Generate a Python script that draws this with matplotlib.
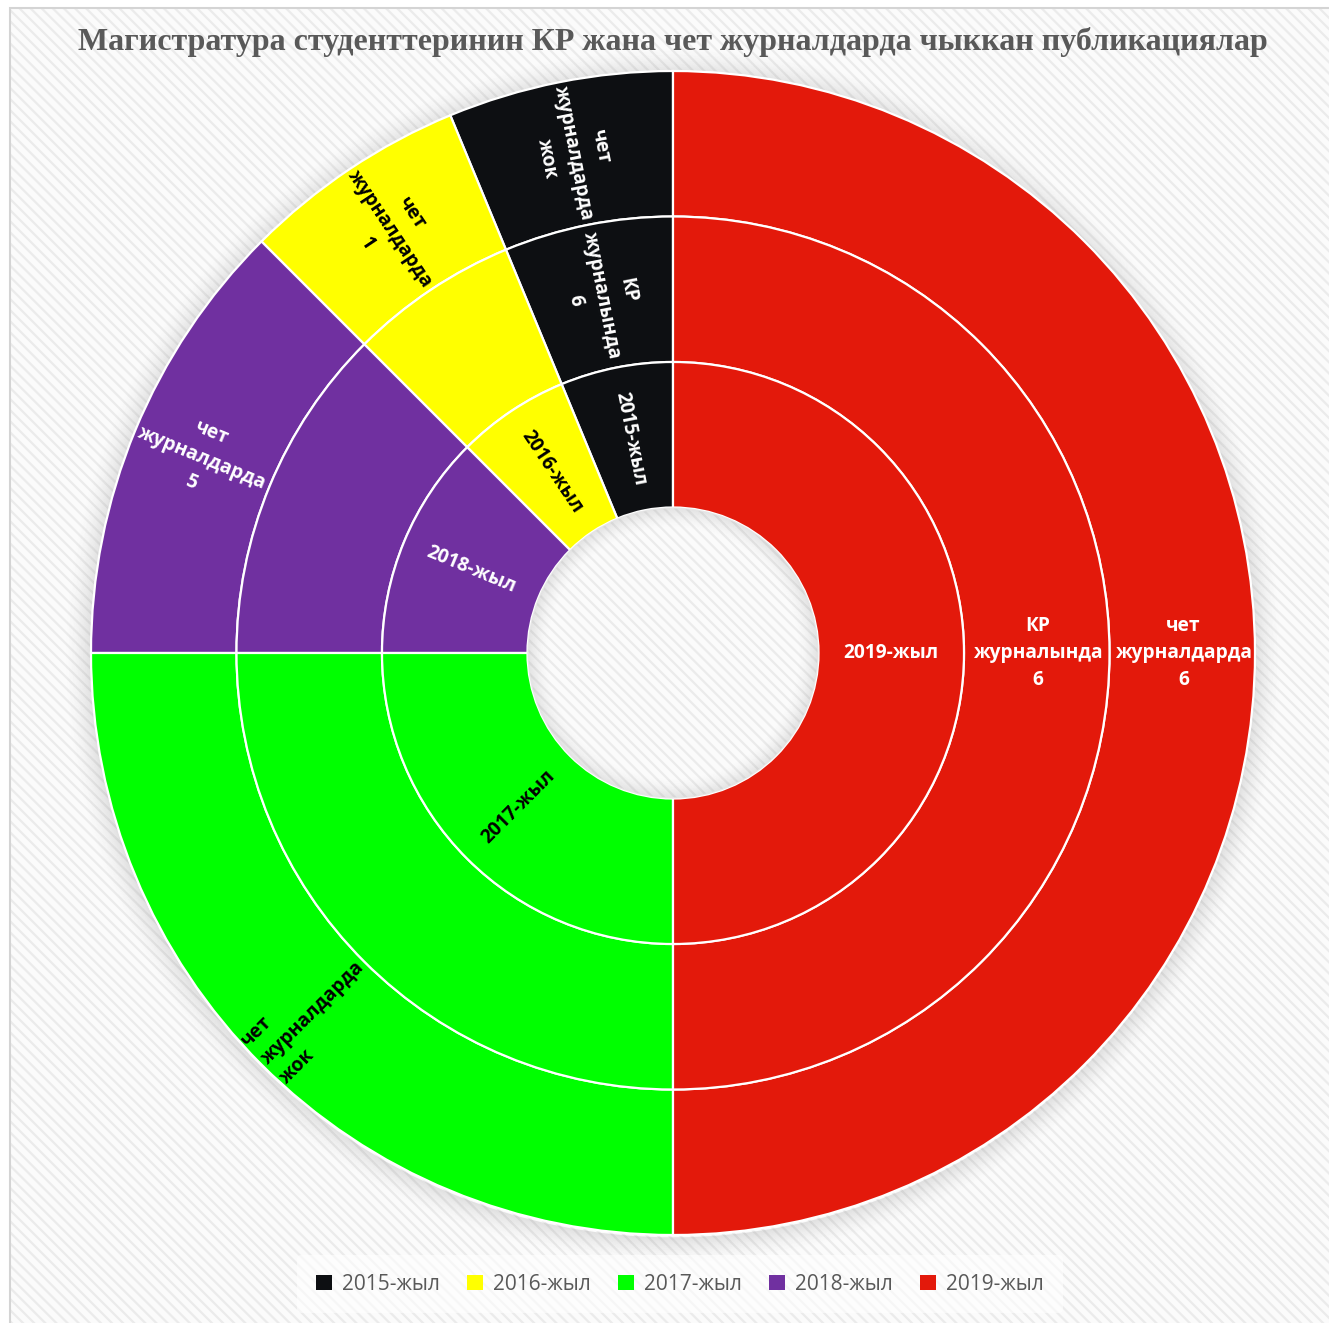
import matplotlib
matplotlib.use('Agg')
import matplotlib.pyplot as plt
from matplotlib.patches import Rectangle, Wedge, Patch
import numpy as np

# ---------------- data ----------------
years = ['2015-жыл', '2016-жыл', '2017-жыл', '2018-жыл', '2019-жыл']
colors = ['#0D0F12', '#FFFF00', '#00FF00', '#7030A0', '#E3190B']
shares = [1, 1, 4, 2, 8]                 # same share in every ring
ring_order = [0, 1, 3, 2, 4]             # counter-clockwise from 12 o'clock

inner_labels = ['2015-жыл', '2016-жыл', '2017-жыл', '2018-жыл', '2019-жыл']
middle_labels = ['КР\nжурналында\n6', '', '', '', 'КР\nжурналында\n6']
outer_labels = ['чет\nжурналдарда\nжок', 'чет\nжурналдарда\n1',
                'чет\nжурналдарда\nжок', 'чет\nжурналдарда\n5',
                'чет\nжурналдарда\n6']
label_colors = ['white', 'black', 'black', 'white', 'white']

title = 'Магистратура студенттеринин КР жана чет журналдарда чыккан публикациялар'

# ---------------- figure ----------------
W, H = 1329, 1323
fig = plt.figure(figsize=(W / 100, H / 100), dpi=100)
fig.patch.set_facecolor('white')

# striped background with light frame
plt.rcParams['hatch.linewidth'] = 1.6
bg = Rectangle((10 / W, -0.01), 1.0, (H - 8) / H + 0.01, transform=fig.transFigure,
               facecolor='#fbfbfb', edgecolor='#ebebeb', lw=0, hatch='\\\\\\',
               zorder=-10)
fig.patches.append(bg)
frame = Rectangle((10 / W, -0.01), 1.0, (H - 8) / H + 0.01, transform=fig.transFigure,
                  facecolor='none', edgecolor='#d4d4d4', lw=1.5, zorder=-9)
fig.patches.append(frame)

# axes placed so that center = (673, 653) px, outer radius = 582 px
cx, cy, R = 673, 653, 582
half = 620
ax = fig.add_axes([(cx - half) / W, (H - cy - half) / H, 2 * half / W, 2 * half / H])
ax.patch.set_alpha(0)
ax.set_zorder(2)

# soft outer shadow
n = 40
for k in range(n):
    r = 1.0 + 0.045 * (k + 1) / n
    a = 0.16 * (1 - k / n) ** 1.6
    ax.add_patch(Wedge((0, -0.004), r, 0, 360, width=0.045 / n, color='#555555',
                       alpha=a, lw=0, zorder=1))

vals = [shares[i] for i in ring_order]
cols = [colors[i] for i in ring_order]
radii = [1.0, 0.75, 0.5]
for rad in radii:
    ax.pie(vals, colors=cols, radius=rad, startangle=90, counterclock=True,
           wedgeprops=dict(width=0.25, edgecolor='white', linewidth=1.6))

# inner shadow of the hole
for k in range(25):
    r = 0.25 - 0.035 * k / 25
    a = 0.15 * (1 - k / 25) ** 1.6
    ax.add_patch(Wedge((0, 0), r, 0, 360, width=0.035 / 25, color='#555555',
                       alpha=a, lw=0, zorder=5))

ax.set_xlim(-half / R, half / R)
ax.set_ylim(-half / R, half / R)
ax.set_aspect('equal')
ax.axis('off')

# labels
total = sum(shares)
start = 90.0
mids = {}
for i in ring_order:
    span = 360.0 * shares[i] / total
    mids[i] = start + span / 2
    start += span

font = ['Open Sans', 'DejaVu Sans']
for labels, rmid in [(inner_labels, 0.375), (middle_labels, 0.627), (outer_labels, 0.877)]:
    for i, lab in enumerate(labels):
        if not lab:
            continue
        m = mids[i] % 360
        th = np.deg2rad(m)
        if 90 <= m <= 270:
            rot = m - 180
        else:
            rot = m if m < 90 else m - 360
        malign = 'left' if (i == 2 and rmid > 0.8) else 'center'
        ax.text(rmid * np.cos(th), rmid * np.sin(th), lab, rotation=rot,
                rotation_mode='anchor', ha='center', va='center',
                multialignment=malign, color=label_colors[i],
                fontsize=13.8, fontweight='bold', family=font,
                linespacing=1.45, zorder=10)

# title
fig.text(673 / W, 1 - 42 / H, title, ha='center', va='center',
         family=['Liberation Serif', 'DejaVu Serif'], fontweight='bold',
         fontsize=23, color='#595959')

# legend
handles = [Patch(facecolor=c, edgecolor='none') for c in colors]
leg = fig.legend(handles, years, loc='center', bbox_to_anchor=(680 / W, 1 - 1284 / H),
                 ncol=5, frameon=True, handlelength=0.75,
                 handleheight=0.75, handletextpad=0.5, columnspacing=1.3,
                 borderpad=0.9, prop={'family': font, 'size': 15})
leg.get_frame().set_facecolor('white')
leg.get_frame().set_alpha(0.6)
leg.get_frame().set_edgecolor('none')
for t in leg.get_texts():
    t.set_color('#595959')

fig.savefig('out.png', dpi=100)
